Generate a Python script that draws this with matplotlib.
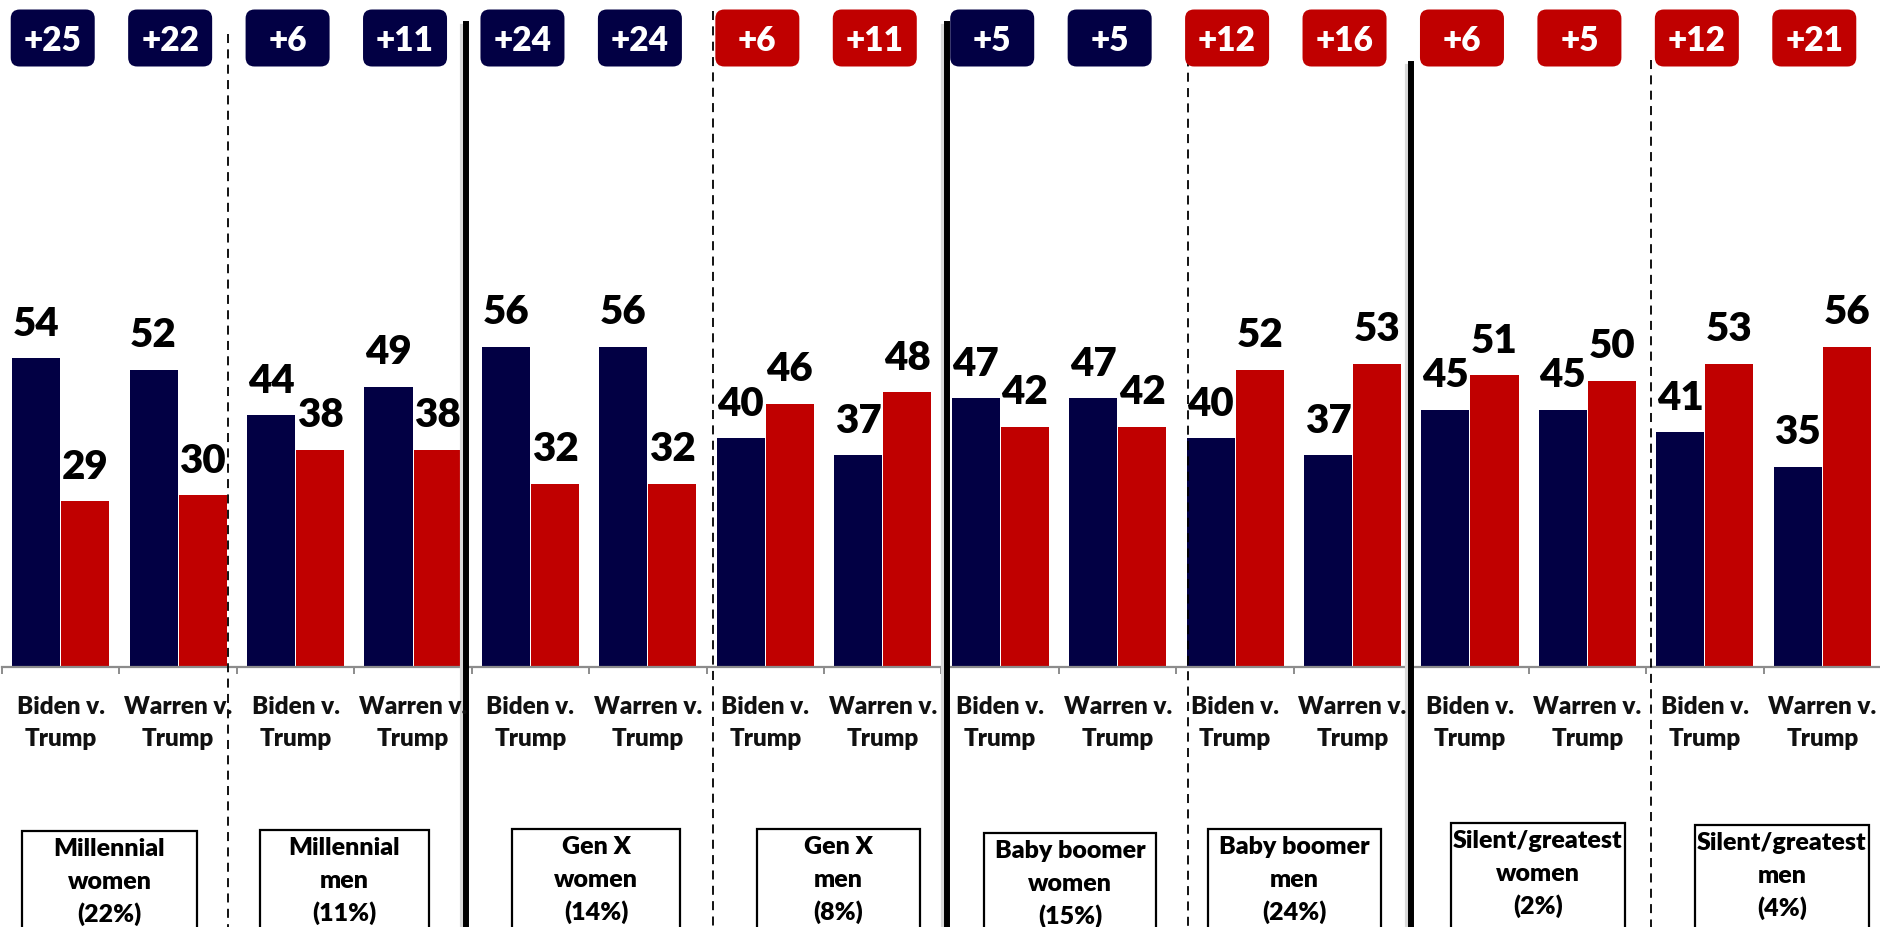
import matplotlib
matplotlib.use('Agg')
import matplotlib.pyplot as plt
from matplotlib.patches import FancyBboxPatch, Rectangle
from matplotlib.lines import Line2D
import numpy as np

plt.rcParams['font.family'] = ['Lato', 'DejaVu Sans']

# ---------------- data ----------------
groups = ['Millennial\nwomen\n(22%)', 'Millennial\nmen\n(11%)',
          'Gen X\nwomen\n(14%)', 'Gen X\nmen\n(8%)',
          'Baby boomer\nwomen\n(15%)', 'Baby boomer\nmen\n(24%)',
          'Silent/greatest\nwomen\n(2%)', 'Silent/greatest\nmen\n(4%)']
matchups = ['Biden v.\nTrump', 'Warren v.\nTrump']
dem = [54, 52, 44, 49, 56, 56, 40, 37, 47, 47, 40, 37, 45, 45, 41, 35]
trump = [29, 30, 38, 38, 32, 32, 46, 48, 42, 42, 52, 53, 51, 50, 53, 56]

NAVY = '#020044'
RED = '#C00000'
WEIGHT = 'heavy'

# ---------------- layout (pixels) ----------------
W, H = 1881, 928
BASE_Y = 668
PX_PER_UNIT = 5.72
box_left = [22, 260, 512, 757, 984, 1208, 1451, 1695]
box_right = [197, 429, 680, 920, 1156, 1381, 1625, 1869]
box_top = [832, 831, 830, 830, 834, 830, 824, 826]
thick_x = [466, 947, 1411]
thick_top = [25, 25, 65]
dash_x = [228, 713, 1188, 1651]
dash_top = [35, 12, 43, 61]

fig = plt.figure(figsize=(W / 100, H / 100), dpi=100)
ax = fig.add_axes([2 / W, 1 - BASE_Y / H, 1879 / W, BASE_Y / H])
n = len(dem)
x = np.arange(n)
bw = 0.409
off = 0.209
ax.bar(x - off, dem, bw, color=NAVY, zorder=2)
ax.bar(x + off, trump, bw, color=RED, zorder=2)
ax.set_xlim(-0.5, n - 0.5)
ax.set_ylim(0, BASE_Y / PX_PER_UNIT)
for s in ['left', 'right', 'top']:
    ax.spines[s].set_visible(False)
ax.spines['bottom'].set_color('#8c8c8c')
ax.spines['bottom'].set_linewidth(1.6)
ax.set_yticks([])
ax.set_xticks([])
ax.set_xticks(np.arange(-0.5, n, 1.0), minor=True)
ax.tick_params(axis='x', which='minor', length=5, width=1.4, color='#8c8c8c',
               labelbottom=False)

for xi, v in zip(x, dem):
    ax.annotate(str(v), (xi - off, v), xytext=(0, 17), textcoords='offset points',
                ha='center', va='baseline', fontsize=29, fontweight=WEIGHT, color='black')
for xi, v in zip(x, trump):
    ax.annotate(str(v), (xi + off, v), xytext=(0, 17), textcoords='offset points',
                ha='center', va='baseline', fontsize=29, fontweight=WEIGHT, color='black')

# overlay in pixel coordinates (y down)
ov = fig.add_axes([0, 0, 1, 1])
ov.set_xlim(0, W)
ov.set_ylim(H, 0)
ov.axis('off')

fig.canvas.draw()
def cat_px(i):
    disp = ax.transData.transform((i, 0))
    return disp[0] * W / fig.bbox.width

# badges
for i in range(n):
    diff = dem[i] - trump[i]
    col = NAVY if diff > 0 else RED
    cx = cat_px(i) - 8
    cy = 39
    bwid, bht = 84, 57
    ov.add_patch(FancyBboxPatch((cx - bwid / 2, cy - bht / 2), bwid, bht,
                                boxstyle='round,pad=0,rounding_size=9',
                                facecolor=col, edgecolor='none', zorder=3))
    ov.text(cx, cy + 2, '+%d' % abs(diff), ha='center', va='center', color='white',
            fontsize=24, fontweight=WEIGHT, zorder=4)

# category labels
for i in range(n):
    lines = matchups[i % 2].split('\n')
    cx = cat_px(i)
    for k, ln in enumerate(lines):
        ov.text(cx, 714 + k * 32, ln, ha='center', va='baseline', fontsize=17.5,
                fontweight=WEIGHT, color='#111111')

# group boxes
for g, lab in enumerate(groups):
    l, r, t = box_left[g], box_right[g], box_top[g]
    ov.add_patch(Rectangle((l, t), r - l, H + 5 - t, facecolor='white',
                           edgecolor='black', linewidth=1.6, zorder=3))
    for k, ln in enumerate(lab.split('\n')):
        ov.text((l + r) / 2, t + 24 + k * 33, ln, ha='center', va='baseline',
                fontsize=18, fontweight=WEIGHT, color='black', zorder=4)

# dividers
for xx, tt in zip(thick_x, thick_top):
    ov.add_line(Line2D([xx - 4, xx - 4], [tt + 2, H], color='#d9d9d9', linewidth=3, zorder=1))
    ov.add_line(Line2D([xx, xx], [tt, H], color='black', linewidth=4.3, zorder=2))
for xx, tt in zip(dash_x, dash_top):
    ov.add_line(Line2D([xx, xx], [tt, H], color='black', linewidth=1.3,
                       linestyle=(0, (5, 3.5)), zorder=2))

fig.savefig('out.png', dpi=100)
